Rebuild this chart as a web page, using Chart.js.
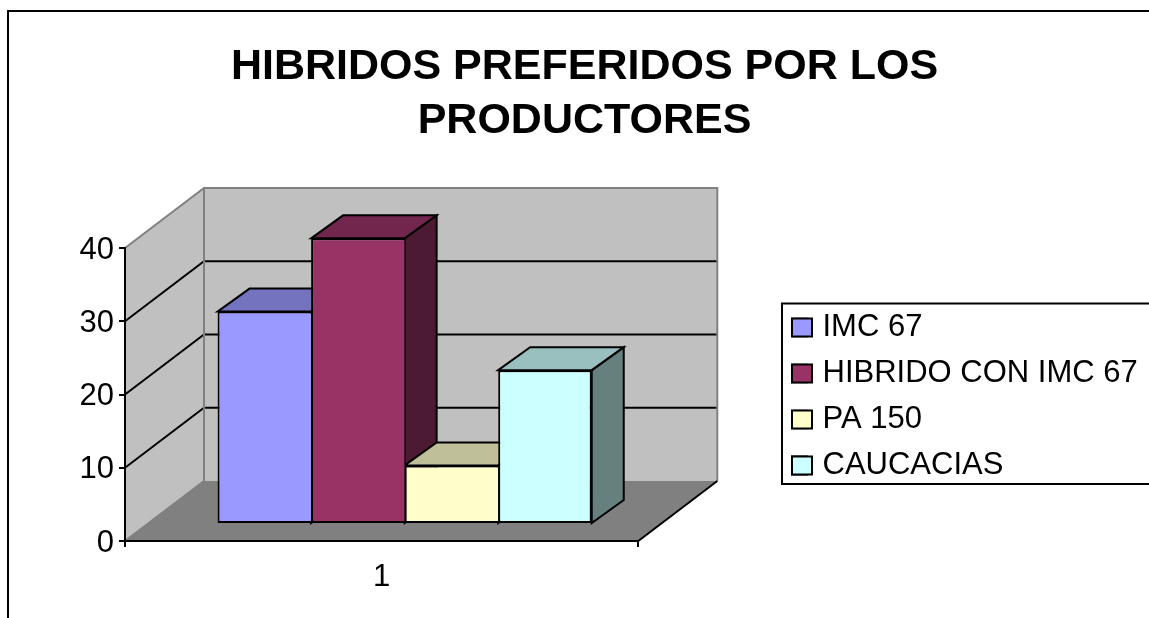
<!DOCTYPE html>
<html>
<head>
<meta charset="utf-8">
<title>Hibridos preferidos</title>
<script src="https://cdn.jsdelivr.net/npm/chart.js@4"></script>
<style>
  html, body { margin: 0; padding: 0; background: #fff; overflow: hidden; }
  canvas { display: block; }
</style>
</head>
<body>
<canvas id="chart" width="1149" height="618"></canvas>
<script>
const titleLines = ['HIBRIDOS PREFERIDOS POR LOS', 'PRODUCTORES'];
const categories = ['1'];
const seriesNames = ['IMC 67', 'HIBRIDO CON IMC 67', 'PA 150', 'CAUCACIAS'];
const seriesValues = [29, 39, 8, 21];
const seriesColors = ['#9999FF', '#993366', '#FFFFCC', '#CCFFFF'];
const yTicks = [0, 10, 20, 30, 40];

const FONT = '"Liberation Sans", Arial, sans-serif';
const WALL = { dx: 79, dy: 60 };    // depth of the floor
const BAR = { dx: 32, dy: 23 };     // depth of a bar
const SHIFT = { dx: 23, dy: 17 };   // bars stand a bit behind the front edge
const LEGEND_POS = { left: 792, top: 297 };
const TITLE_SHIFT = 80;

function shade(hex, k) {
    const n = parseInt(hex.slice(1), 16);
    const c = s => Math.round(((n >> s) & 255) * k);
    return `rgb(${c(16)},${c(8)},${c(0)})`;
}

function poly(ctx, pts, fill, stroke) {
    ctx.beginPath();
    pts.forEach((p, i) => i ? ctx.lineTo(p[0], p[1]) : ctx.moveTo(p[0], p[1]));
    ctx.closePath();
    if (fill) { ctx.fillStyle = fill; ctx.fill(); }
    if (stroke) { ctx.strokeStyle = stroke; ctx.lineWidth = 2; ctx.stroke(); }
}

const box3d = {
    id: 'box3d',
    afterLayout(chart) {
        // legend sits further right than the layout would put it
        const legend = chart.legend;
        legend.left = LEGEND_POS.left - legend.options.labels.padding;
        legend.right = chart.width;
        legend.top = LEGEND_POS.top;
        legend.bottom = chart.height;
        chart.titleBlock.left += TITLE_SHIFT;
        chart.titleBlock.right += TITLE_SHIFT;
    },
    beforeDraw(chart) {
        const ctx = chart.ctx;
        const { left, right, top, bottom } = chart.chartArea;
        const y = chart.scales.y;
        ctx.save();
        // outer frame, cut by the page edge on the right and at the bottom
        ctx.strokeStyle = '#000';
        ctx.lineWidth = 2;
        ctx.beginPath();
        ctx.moveTo(8, chart.height + 2);
        ctx.lineTo(8, 11);
        ctx.lineTo(chart.width + 2, 11);
        ctx.stroke();

        poly(ctx, [[left, bottom], [left, top], [left + WALL.dx, top - WALL.dy], [left + WALL.dx, bottom - WALL.dy]], '#C0C0C0');
        poly(ctx, [[left + WALL.dx, top - WALL.dy], [right + WALL.dx, top - WALL.dy], [right + WALL.dx, bottom - WALL.dy], [left + WALL.dx, bottom - WALL.dy]], '#C0C0C0');
        poly(ctx, [[left, bottom], [right, bottom], [right + WALL.dx, bottom - WALL.dy], [left + WALL.dx, bottom - WALL.dy]], '#808080');

        ctx.lineWidth = 2;
        ctx.strokeStyle = '#000';
        yTicks.slice(1, -1).forEach(t => {
            const py = y.getPixelForValue(t);
            ctx.beginPath();
            ctx.moveTo(left, py);
            ctx.lineTo(left + WALL.dx, py - WALL.dy);
            ctx.lineTo(right + WALL.dx, py - WALL.dy);
            ctx.stroke();
        });

        ctx.strokeStyle = '#808080';
        ctx.beginPath();
        ctx.moveTo(left, top);
        ctx.lineTo(left + WALL.dx, top - WALL.dy);
        ctx.lineTo(right + WALL.dx, top - WALL.dy);
        ctx.lineTo(right + WALL.dx, bottom - WALL.dy);
        ctx.moveTo(left + WALL.dx, top - WALL.dy);
        ctx.lineTo(left + WALL.dx, bottom - WALL.dy);
        ctx.lineTo(left, bottom);
        ctx.stroke();

        ctx.strokeStyle = '#000';
        ctx.beginPath();
        ctx.moveTo(right, bottom);
        ctx.lineTo(right + WALL.dx, bottom - WALL.dy);
        ctx.stroke();
        ctx.restore();
    },
    beforeDatasetsDraw(chart) {
        const ctx = chart.ctx;
        ctx.save();
        ctx.translate(SHIFT.dx, -SHIFT.dy);
        // tops and sides left to right, the library then paints the fronts
        chart.data.datasets.forEach((ds, i) => {
            const bar = chart.getDatasetMeta(i).data[0];
            const l = bar.x - bar.width / 2, r = bar.x + bar.width / 2;
            poly(ctx, [[r, bar.y], [r + BAR.dx, bar.y - BAR.dy], [r + BAR.dx, bar.base - BAR.dy], [r, bar.base]], shade(seriesColors[i], 0.5), '#000');
            poly(ctx, [[l, bar.y], [l + BAR.dx, bar.y - BAR.dy], [r + BAR.dx, bar.y - BAR.dy], [r, bar.y]], shade(seriesColors[i], 0.75), '#000');
        });
    },
    afterDatasetsDraw(chart) {
        chart.ctx.restore();
    },
    afterDraw(chart) {
        const ctx = chart.ctx;
        const legend = chart.legend;
        const labels = legend.options.labels;
        const size = labels.font.size;
        ctx.save();
        // frame round the legend, open at the page edge
        ctx.strokeStyle = '#000';
        ctx.lineWidth = 2;
        ctx.beginPath();
        ctx.moveTo(chart.width + 2, 303.5);
        ctx.lineTo(782, 303.5);
        ctx.lineTo(782, 484);
        ctx.lineTo(chart.width + 2, 484);
        ctx.stroke();
        // swatches are wider than the legend's gap to the text allows
        legend.legendItems.forEach((item, i) => {
            const cy = legend.top + labels.padding + i * (size + labels.padding) + size / 2;
            ctx.fillStyle = item.fillStyle;
            ctx.fillRect(LEGEND_POS.left, cy - 9, 20, 18);
            ctx.strokeRect(LEGEND_POS.left, cy - 9, 20, 18);
        });
        ctx.restore();
    }
};

new Chart(document.getElementById('chart'), {
    type: 'bar',
    data: {
        labels: categories,
        datasets: seriesNames.map((name, i) => ({
            label: name,
            data: [seriesValues[i]],
            backgroundColor: seriesColors[i],
            borderColor: '#000',
            borderWidth: { top: 2, left: 2, bottom: 2, right: i === seriesNames.length - 1 ? 2 : 0 },
            borderSkipped: false
        }))
    },
    options: {
        responsive: false,
        animation: false,
        layout: { padding: { left: 0, right: 140, top: 0, bottom: 0 } },
        datasets: { bar: { categoryPercentage: 0.729, barPercentage: 1 } },
        plugins: {
            tooltip: { enabled: false },
            title: {
                display: true,
                text: titleLines,
                color: '#000',
                font: { family: FONT, size: 43, weight: 'bold', lineHeight: 1.256 },
                padding: { top: 40, bottom: 100 }
            },
            legend: {
                position: 'right',
                align: 'start',
                maxWidth: 400,
                labels: {
                    color: '#000',
                    font: { family: FONT, size: 31 },
                    boxWidth: 15,
                    boxHeight: 18,
                    padding: 15
                }
            }
        },
        scales: {
            x: {
                afterFit: s => { s.height = 77; },
                grid: { drawOnChartArea: false, color: '#000', lineWidth: 2, tickLength: 6 },
                border: { color: '#000', width: 2 },
                ticks: { color: '#000', font: { family: FONT, size: 31 }, padding: 12 }
            },
            y: {
                min: yTicks[0],
                max: yTicks[yTicks.length - 1],
                afterFit: s => { s.width = 125; },
                afterBuildTicks: s => { s.ticks = yTicks.map(value => ({ value })); },
                grid: { drawOnChartArea: false, color: '#000', lineWidth: 2, tickLength: 6 },
                border: { color: '#000', width: 2 },
                ticks: { color: '#000', font: { family: FONT, size: 31 }, padding: 5, labelOffset: 2 }
            }
        }
    },
    plugins: [box3d]
});
</script>
</body>
</html>
